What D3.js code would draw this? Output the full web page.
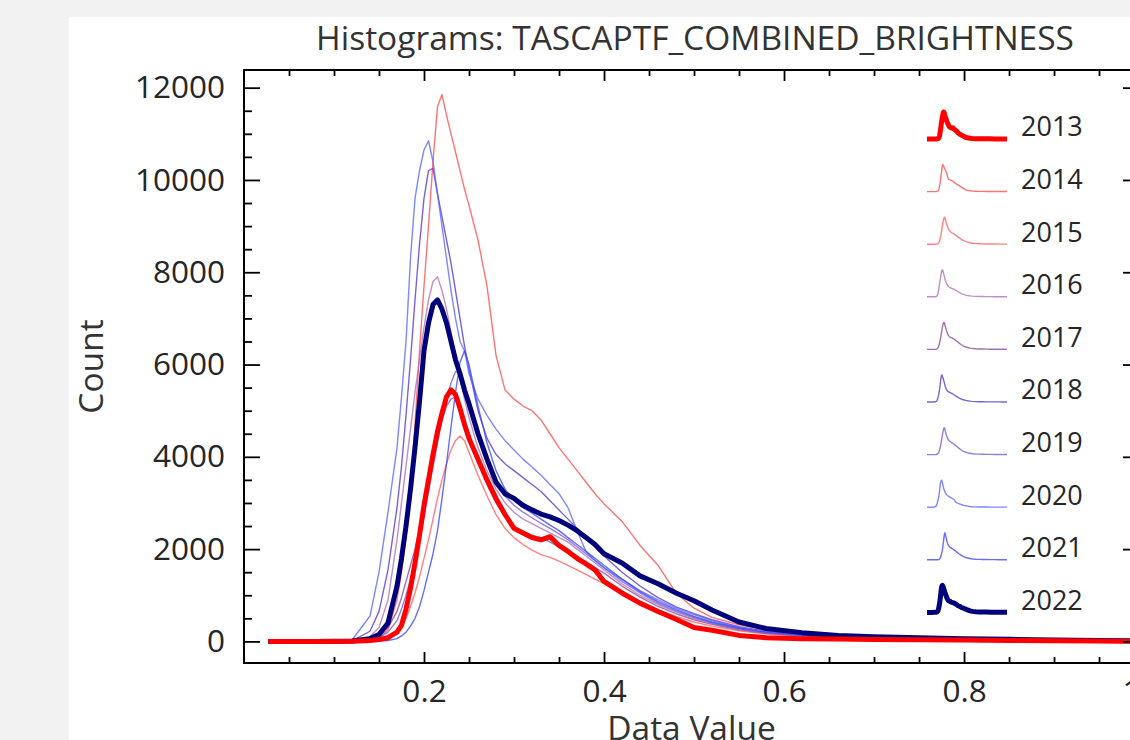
<!DOCTYPE html>
<html>
<head>
<meta charset="utf-8">
<script src="https://cdn.jsdelivr.net/npm/d3@7"></script>
<style>
  html, body { margin: 0; padding: 0; background: #f2f2f2; overflow: hidden; }
  svg { display: block; font-family: 'Open Sans', sans-serif; }
</style>
</head>
<body>
<svg id="svg" width="1130" height="740"></svg>
<script>
// years shown in the legend, top to bottom
var years = ['2013', '2014', '2015', '2016', '2017', '2018', '2019', '2020', '2021', '2022'];

// bin centres (data value), shared by every year
var dataValue = [0.027, 0.08, 0.12, 0.14, 0.15, 0.16, 0.17,
  0.175, 0.18, 0.185, 0.19, 0.195, 0.20, 0.205, 0.21, 0.215, 0.22, 0.225, 0.23, 0.235, 0.24, 0.245,
  0.25, 0.26, 0.27, 0.28, 0.29, 0.30, 0.31, 0.32, 0.33, 0.34, 0.35, 0.36, 0.37, 0.38, 0.39, 0.40,
  0.42, 0.44, 0.46, 0.48, 0.50, 0.52,
  0.55, 0.58, 0.62, 0.66, 0.70, 0.75, 0.80, 0.85, 0.90, 0.95, 1.00];

// counts per year
var counts2013 = [0,0,5,20,40,80,200, 350,700,1150,1700,2300,2950,3500,4050,4550,4950,5300,5450,5350,5050,4700,
  4400,3950,3500,3100,2750,2450,2350,2250,2200,2270,2080,1950,1800,1680,1550,1300,
  1050,830,650,480,300,240, 130,80,60,50,42,36,30,22,15,8,3];
var counts2014 = [0,0,5,30,80,250,900, 1500,2300,3300,4700,6300,7700,9000,10400,11600,11850,11400,11000,10600,10200,9800,
  9450,8700,7700,6200,5450,5250,5100,5000,4800,4500,4200,3950,3700,3450,3200,2980,
  2600,2080,1650,1050,720,520, 360,250,170,120,95,75,60,45,35,25,15];
var counts2015 = [0,0,0,10,30,80,200, 320,500,750,1050,1400,1800,2200,2650,3100,3500,3850,4150,4350,4450,4350,
  4100,3600,3150,2750,2450,2250,2100,1980,1880,1820,1740,1650,1550,1450,1350,1250,
  1050,850,680,540,420,330, 230,160,110,80,60,45,35,28,20,15,10];
var counts2016 = [0,0,5,100,300,900,2200, 3000,3800,4600,5400,6100,6800,7400,7800,7900,7600,7200,6700,6200,5700,5250,
  4850,4200,3700,3300,3000,2800,2650,2550,2450,2350,2250,2150,2000,1850,1700,1550,
  1250,1000,800,640,500,390, 270,190,130,95,75,60,45,35,28,20,12];
var counts2017 = [0,0,5,40,120,300,650, 950,1300,1650,2000,2450,2950,3450,3950,4400,4800,5100,5250,5300,5100,4800,
  4500,3900,3400,3000,2700,2500,2380,2300,2250,2150,2050,1950,1850,1720,1600,1480,
  1200,960,760,600,470,370, 250,175,120,90,70,55,42,32,25,18,10];
var counts2018 = [0,0,10,220,650,1550,2900, 3800,4900,6100,7400,8600,9600,10200,10250,9700,9200,8700,8200,7600,7000,6400,
  5900,5000,4400,4050,3850,3700,3550,3400,3250,3050,2850,2650,2450,2250,2050,1850,
  1500,1200,950,750,600,470, 320,220,150,110,85,65,50,40,30,22,15];
var counts2019 = [0,0,5,30,80,200,450, 700,1000,1350,1750,2200,2700,3250,3800,4300,4800,5250,5600,5850,5800,5500,
  5100,4400,3850,3450,3150,2950,2800,2680,2560,2450,2330,2200,2050,1900,1750,1600,
  1300,1050,830,660,520,400, 280,190,130,95,75,58,45,35,27,20,12];
var counts2020 = [0,0,30,550,1500,2800,4200, 5300,6500,8300,9600,10200,10650,10850,10400,9700,9000,8300,7600,7000,6500,6300,
  5800,5250,4900,4600,4350,4150,3950,3780,3600,3400,3200,2900,2400,1950,1750,1600,
  1350,1100,900,720,580,450, 300,200,140,100,80,65,50,40,30,22,15];
var counts2021 = [0,0,0,5,10,20,60, 120,200,330,500,750,1100,1500,1900,2400,3100,3850,4650,5400,6050,6300,
  6000,5100,4300,3700,3300,3050,2900,2780,2650,2520,2400,2250,2100,1950,1800,1650,
  1350,1080,860,690,540,420, 290,200,140,100,78,60,47,37,28,20,12];
var counts2022 = [0,0,10,60,150,400,1200, 1800,2500,3300,4200,5200,6300,6900,7300,7400,7200,6900,6500,6100,5800,5450,
  5150,4500,3950,3450,3200,3100,2950,2850,2760,2700,2620,2520,2400,2250,2100,1900,
  1700,1420,1250,1050,880,680, 420,280,190,130,100,80,60,45,30,20,10];

var xMajorTicks = [0.2, 0.4, 0.6, 0.8, 1.0];
var yMajorTicks = [0, 2000, 4000, 6000, 8000, 10000, 12000];

var lineColours = ['#ff0000', '#ff5050', '#ff6060', '#b070b8', '#8c4c9a', '#5a3ad0', '#7a5cd8', '#5a6aff', '#3c48ff', '#00007a'];
var lineWidths = [5, 1.4, 1.4, 1.4, 1.4, 1.4, 1.4, 1.4, 1.4, 5];

var allCounts = [counts2013, counts2014, counts2015, counts2016, counts2017,
                 counts2018, counts2019, counts2020, counts2021, counts2022];

var series = years.map(function (y, i) {
  return {
    year: y,
    colour: lineColours[i],
    width: lineWidths[i],
    points: dataValue.map(function (v, j) { return { x: v, y: allCounts[i][j] }; })
  };
});

var svg = d3.select('#svg');
var box = { left: 244, top: 70, right: 1139, bottom: 663 };

// backgrounds
svg.append('rect').attr('width', 1130).attr('height', 740).attr('fill', '#f2f2f2');
svg.append('rect').attr('x', 69).attr('y', 17).attr('width', 1130 - 69).attr('height', 740 - 17).attr('fill', '#ffffff');

var xScale = d3.scaleLinear().domain([0, 0.9944]).range([box.left, box.right]);
var yScale = d3.scaleLinear().domain([-468, 12383]).range([box.bottom, box.top]);

svg.append('clipPath').attr('id', 'plotClip')
  .append('rect')
  .attr('x', box.left).attr('y', box.top)
  .attr('width', box.right - box.left).attr('height', box.bottom - box.top);

var line = d3.line().x(function (d) { return xScale(d.x); }).y(function (d) { return yScale(d.y); });

// thin lines first, then navy, thick red on top
var drawOrder = [1, 2, 3, 4, 5, 6, 7, 8, 9, 0];
var plot = svg.append('g').attr('clip-path', 'url(#plotClip)');
drawOrder.forEach(function (i) {
  var s = series[i];
  plot.append('path')
    .datum(s.points)
    .attr('d', line)
    .attr('fill', 'none')
    .attr('stroke', s.colour)
    .attr('stroke-width', s.width)
    .attr('stroke-opacity', s.width > 2 ? 1 : 0.8)
    .attr('stroke-linejoin', 'round');
});

// axes
var xMinor = d3.range(1, 20).map(function (k) { return k * 0.05; })
  .filter(function (v) { return Math.round(v * 100) % 20 !== 0; });
var yMinor = d3.range(500, 12383, 500).filter(function (v) { return v % 2000 !== 0; });

function styleAxis(g) {
  g.select('.domain').remove();
  g.selectAll('line').attr('stroke', '#000').attr('stroke-width', 1.8);
  g.selectAll('text').attr('fill', '#262626').style('font-size', '31.5px').style('font-family', "'Open Sans', sans-serif");
}

svg.append('g').attr('transform', 'translate(0,' + box.bottom + ')')
  .call(d3.axisBottom(xScale).tickValues(xMajorTicks).tickSize(-11).tickPadding(17).tickFormat(d3.format('.1f')))
  .call(styleAxis);
svg.append('g').attr('transform', 'translate(0,' + box.bottom + ')')
  .call(d3.axisBottom(xScale).tickValues(xMinor).tickSize(-6).tickFormat(''))
  .call(styleAxis);
svg.append('g').attr('transform', 'translate(0,' + box.top + ')')
  .call(d3.axisTop(xScale).tickValues(xMajorTicks).tickSize(-11).tickFormat(''))
  .call(styleAxis);
svg.append('g').attr('transform', 'translate(0,' + box.top + ')')
  .call(d3.axisTop(xScale).tickValues(xMinor).tickSize(-6).tickFormat(''))
  .call(styleAxis);

svg.append('g').attr('transform', 'translate(' + box.left + ',0)')
  .call(d3.axisLeft(yScale).tickValues(yMajorTicks).tickSize(-16).tickPadding(19).tickFormat(d3.format('d')))
  .call(styleAxis);
svg.append('g').attr('transform', 'translate(' + box.left + ',0)')
  .call(d3.axisLeft(yScale).tickValues(yMinor).tickSize(-8).tickFormat(''))
  .call(styleAxis);
svg.append('g').attr('transform', 'translate(' + box.right + ',0)')
  .call(d3.axisRight(yScale).tickValues(yMajorTicks).tickSize(-16).tickFormat(''))
  .call(styleAxis);
svg.append('g').attr('transform', 'translate(' + box.right + ',0)')
  .call(d3.axisRight(yScale).tickValues(yMinor).tickSize(-8).tickFormat(''))
  .call(styleAxis);

// frame
svg.append('rect')
  .attr('x', box.left).attr('y', box.top)
  .attr('width', box.right - box.left).attr('height', box.bottom - box.top)
  .attr('fill', 'none').attr('stroke', '#000').attr('stroke-width', 2);

// titles
svg.append('text')
  .attr('x', 695).attr('y', 50)
  .attr('text-anchor', 'middle')
  .attr('fill', '#333')
  .style('font-size', '33.5px')
  .text('Histograms: TASCAPTF_COMBINED_BRIGHTNESS');

svg.append('text')
  .attr('x', (box.left + box.right) / 2).attr('y', 740)
  .attr('text-anchor', 'middle')
  .attr('fill', '#333')
  .style('font-size', '33.5px')
  .text('Data Value');

svg.append('text')
  .attr('transform', 'translate(103,' + ((box.top + box.bottom) / 2) + ') rotate(-90)')
  .attr('text-anchor', 'middle')
  .attr('fill', '#333')
  .style('font-size', '33.5px')
  .text('Count');

// legend: each year's own curve, shrunk into a small box
var legend = svg.append('g').attr('class', 'legend');
series.forEach(function (s, i) {
  var y0 = 127 + i * 52.6;
  var gx = d3.scaleLinear().domain([dataValue[0], 1.0]).range([927, 1007]);
  var gy = d3.scaleLinear().domain([0, d3.max(s.points, function (d) { return d.y; })]).range([y0 + 12, y0 - 15]);
  var mini = d3.line().x(function (d) { return gx(d.x); }).y(function (d) { return gy(d.y); });
  legend.append('path')
    .datum(s.points)
    .attr('d', mini)
    .attr('fill', 'none')
    .attr('stroke', s.colour)
    .attr('stroke-width', s.width)
    .attr('stroke-opacity', s.width > 2 ? 1 : 0.8)
    .attr('stroke-linejoin', 'round');
  legend.append('text')
    .attr('x', 1021).attr('y', y0).attr('dy', '0.35em')
    .attr('fill', '#262626')
    .style('font-size', '27px')
    .text(s.year);
});
</script>
</body>
</html>
